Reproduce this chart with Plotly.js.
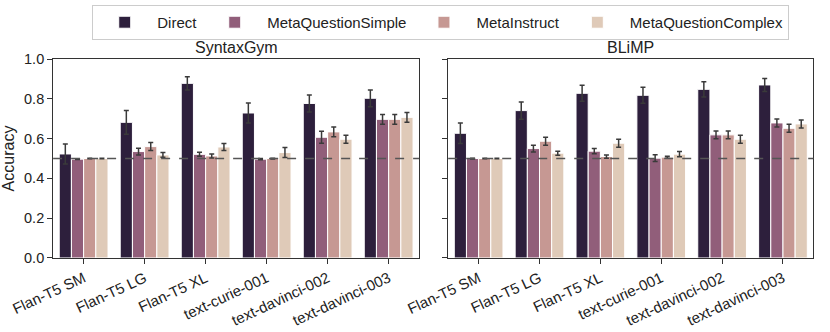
<!DOCTYPE html>
<html>
<head>
<meta charset="utf-8">
<script src="https://cdn.plot.ly/plotly-3.0.1.min.js"></script>
<style>body{margin:0;padding:0;background:#fff}#plot{width:830px;height:332px}</style>
</head>
<body>
<div id="plot"></div>
<script>
var models = ["Flan-T5 SM", "Flan-T5 LG", "Flan-T5 XL", "text-curie-001", "text-davinci-002", "text-davinci-003"];
var methods = ["Direct", "MetaQuestionSimple", "MetaInstruct", "MetaQuestionComplex"];
var colors = ["#2d1f3c", "#915e7a", "#c69893", "#dfcab8"];

// SyntaxGym accuracy + error per method
var sgDirect = [0.523, 0.682, 0.878, 0.729, 0.777, 0.803];
var sgDirectErr = [0.05, 0.06, 0.033, 0.05, 0.043, 0.042];
var sgMQS = [0.497, 0.535, 0.521, 0.497, 0.607, 0.697];
var sgMQSErr = [0.002, 0.017, 0.01, 0.003, 0.03, 0.025];
var sgMI = [0.5, 0.56, 0.513, 0.5, 0.634, 0.697];
var sgMIErr = [0.001, 0.02, 0.01, 0.002, 0.025, 0.025];
var sgMQC = [0.5, 0.518, 0.558, 0.53, 0.597, 0.707];
var sgMQCErr = [0.001, 0.012, 0.017, 0.025, 0.02, 0.025];

// BLiMP
var blDirect = [0.627, 0.741, 0.828, 0.818, 0.848, 0.87];
var blDirectErr = [0.052, 0.043, 0.04, 0.04, 0.038, 0.033];
var blMQS = [0.5, 0.55, 0.537, 0.502, 0.619, 0.679];
var blMQSErr = [0.002, 0.017, 0.013, 0.017, 0.02, 0.02];
var blMI = [0.5, 0.587, 0.51, 0.507, 0.619, 0.652];
var blMIErr = [0.001, 0.02, 0.008, 0.005, 0.02, 0.02];
var blMQC = [0.5, 0.527, 0.577, 0.522, 0.597, 0.674];
var blMQCErr = [0.001, 0.01, 0.02, 0.013, 0.02, 0.02];

var sgVals = [sgDirect, sgMQS, sgMI, sgMQC];
var sgErrs = [sgDirectErr, sgMQSErr, sgMIErr, sgMQCErr];
var blVals = [blDirect, blMQS, blMI, blMQC];
var blErrs = [blDirectErr, blMQSErr, blMIErr, blMQCErr];

var data = [];
for (var i = 0; i < methods.length; i++) {
  data.push({
    type: 'bar', x: models, y: sgVals[i], name: methods[i],
    legendgroup: methods[i], showlegend: true,
    marker: {color: colors[i], line: {color: 'white', width: 1}},
    error_y: {type: 'data', array: sgErrs[i], color: '#3a3a3a', thickness: 1.5, width: 2.5},
    xaxis: 'x', yaxis: 'y'
  });
}
for (var i = 0; i < methods.length; i++) {
  data.push({
    type: 'bar', x: models, y: blVals[i], name: methods[i],
    legendgroup: methods[i], showlegend: false,
    marker: {color: colors[i], line: {color: 'white', width: 1}},
    error_y: {type: 'data', array: blErrs[i], color: '#3a3a3a', thickness: 1.5, width: 2.5},
    xaxis: 'x2', yaxis: 'y2'
  });
}

var xax = {
  type: 'category', range: [-0.5, 5.5], tickangle: -25,
  ticks: 'outside', ticklen: 5, tickcolor: '#333', tickwidth: 1,
  showline: true, mirror: true, linecolor: '#333', linewidth: 1,
  showgrid: false, zeroline: false,
  tickfont: {size: 15, color: '#222'}
};
var yax = {
  range: [0, 1], dtick: 0.2, tickformat: '.1f',
  ticks: 'outside', ticklen: 5, tickcolor: '#333',
  showline: true, mirror: true, linecolor: '#333', linewidth: 1,
  showgrid: false, zeroline: false,
  tickfont: {size: 14.5, color: '#222'}
};

var layout = {
  width: 830, height: 332,
  margin: {l: 0, r: 0, t: 0, b: 0},
  font: {family: 'Liberation Sans, Arial, sans-serif', color: '#222'},
  paper_bgcolor: 'white', plot_bgcolor: 'white',
  barmode: 'group', bargap: 0.2, bargroupgap: 0,
  xaxis: Object.assign({}, xax, {domain: [0.064, 0.505], anchor: 'y'}),
  yaxis: Object.assign({}, yax, {domain: [0.223, 0.822], anchor: 'x',
    title: {text: 'Accuracy', font: {size: 16}, standoff: 10}}),
  xaxis2: Object.assign({}, xax, {domain: [0.54, 0.98], anchor: 'y2'}),
  yaxis2: Object.assign({}, yax, {domain: [0.223, 0.822], anchor: 'x2', showticklabels: false}),
  legend: {
    orientation: 'h', x: 0.531, xanchor: 'center', y: 0.985, yanchor: 'top',
    bordercolor: '#ccc', borderwidth: 1, font: {size: 15},
    itemwidth: 55
  },
  shapes: [
    {type: 'line', xref: 'x domain', yref: 'y', x0: 0, x1: 1, y0: 0.5, y1: 0.5,
     line: {color: '#555', width: 1.5, dash: 'dash'}},
    {type: 'line', xref: 'x2 domain', yref: 'y2', x0: 0, x1: 1, y0: 0.5, y1: 0.5,
     line: {color: '#555', width: 1.5, dash: 'dash'}}
  ],
  annotations: [
    {text: 'SyntaxGym', xref: 'x domain', yref: 'y domain', x: 0.5, y: 1, yanchor: 'bottom',
     showarrow: false, font: {size: 16}, yshift: 1},
    {text: 'BLiMP', xref: 'x2 domain', yref: 'y2 domain', x: 0.5, y: 1, yanchor: 'bottom',
     showarrow: false, font: {size: 16}, yshift: 1}
  ]
};

Plotly.newPlot('plot', data, layout, {displayModeBar: false});
</script>
</body>
</html>
